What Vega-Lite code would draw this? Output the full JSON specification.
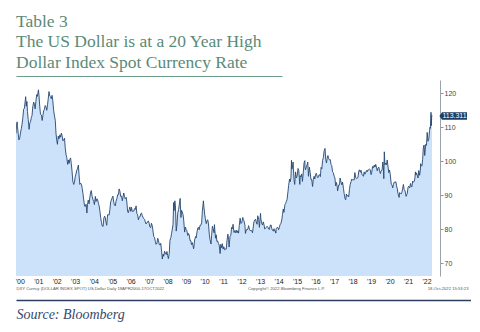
{
  "$schema": "https://vega.github.io/schema/vega-lite/v6.json",
  "background": "white",
  "padding": {"left": 15, "top": 12, "right": 0, "bottom": 6},
  "config": {"view": {"stroke": null}},
  "title": {
    "text": ["Table 3", "The US Dollar is at a 20 Year High", "Dollar Index Spot Currency Rate"],
    "anchor": "start",
    "frame": "group",
    "font": "Liberation Serif, DejaVu Serif, serif",
    "fontSize": 17.5,
    "fontWeight": "normal",
    "color": "#5b8a78",
    "lineHeight": 20.5,
    "offset": 1.5
  },
  "spacing": 1,
  "vconcat": [
    {
      "width": 266,
      "height": 1,
      "data": {"values": [{"x": 0}]},
      "mark": {"type": "point", "opacity": 0},
      "encoding": {
        "x": {
          "field": "x",
          "type": "quantitative",
          "axis": {"orient": "bottom", "domainColor": "#6f9c8a", "domainWidth": 1, "labels": false, "ticks": false, "grid": false, "title": null}
        }
      }
    },
    {
      "width": 424,
      "height": 196,
      "resolve": {"axis": {"x": "independent"}},
      "encoding": {
        "y": {
          "field": "v",
          "type": "quantitative",
          "scale": {"domain": [66.3, 123.9], "nice": false, "zero": false},
          "axis": {
            "orient": "right",
            "values": [70, 80, 90, 100, 110, 120],
            "title": null,
            "grid": false,
            "domainColor": "#9aa3ad",
            "tickColor": "#8a939c",
            "tickSize": 3,
            "labelPadding": 1,
            "labelFontSize": 7,
            "labelColor": "#444444",
            "labelFont": "Liberation Sans"
          }
        }
      },
      "layer": [
        {
          "data": {"values": [
{"d":"2000-04-18","v":108.2},{"d":"2000-04-28","v":110.6},{"d":"2000-05-10","v":111.6},{"d":"2000-05-18","v":110.2},{"d":"2000-06-01","v":108.0},{"d":"2000-06-15","v":106.3},{"d":"2000-07-01","v":106.9},{"d":"2000-07-15","v":108.3},{"d":"2000-08-01","v":109.6},{"d":"2000-08-15","v":110.9},{"d":"2000-09-01","v":112.9},{"d":"2000-09-15","v":115.3},{"d":"2000-10-01","v":115.6},{"d":"2000-10-15","v":117.5},{"d":"2000-10-26","v":119.0},{"d":"2000-11-07","v":116.2},{"d":"2000-11-20","v":117.6},{"d":"2000-12-01","v":114.6},{"d":"2000-12-15","v":112.3},
{"d":"2001-01-02","v":109.4},{"d":"2001-01-15","v":111.2},{"d":"2001-02-01","v":111.8},{"d":"2001-02-15","v":112.9},{"d":"2001-03-01","v":113.5},{"d":"2001-03-15","v":116.0},{"d":"2001-04-02","v":117.4},{"d":"2001-04-16","v":116.8},{"d":"2001-05-01","v":115.4},{"d":"2001-05-15","v":117.6},{"d":"2001-06-01","v":119.6},{"d":"2001-06-15","v":119.1},{"d":"2001-07-05","v":121.0},{"d":"2001-07-16","v":119.4},{"d":"2001-08-01","v":116.0},{"d":"2001-08-15","v":113.8},{"d":"2001-09-03","v":113.6},{"d":"2001-09-17","v":112.0},{"d":"2001-10-01","v":113.4},{"d":"2001-10-15","v":114.8},{"d":"2001-11-01","v":115.3},{"d":"2001-11-15","v":116.4},{"d":"2001-12-03","v":115.9},{"d":"2001-12-17","v":115.0},
{"d":"2002-01-02","v":116.8},{"d":"2002-01-15","v":118.4},{"d":"2002-01-30","v":120.5},{"d":"2002-02-15","v":119.2},{"d":"2002-03-01","v":119.0},{"d":"2002-03-15","v":118.4},{"d":"2002-04-01","v":119.4},{"d":"2002-04-15","v":117.8},{"d":"2002-05-01","v":115.0},{"d":"2002-05-15","v":113.6},{"d":"2002-06-03","v":112.0},{"d":"2002-06-17","v":108.3},{"d":"2002-07-01","v":106.2},{"d":"2002-07-15","v":105.0},{"d":"2002-08-01","v":107.4},{"d":"2002-08-15","v":106.6},{"d":"2002-09-03","v":107.8},{"d":"2002-09-16","v":107.1},{"d":"2002-10-01","v":108.3},{"d":"2002-10-15","v":107.6},{"d":"2002-11-01","v":106.0},{"d":"2002-11-15","v":106.3},{"d":"2002-12-02","v":106.8},{"d":"2002-12-16","v":104.0},
{"d":"2003-01-02","v":101.9},{"d":"2003-01-15","v":101.2},{"d":"2003-02-03","v":99.1},{"d":"2003-02-18","v":100.4},{"d":"2003-03-03","v":99.4},{"d":"2003-03-17","v":100.6},{"d":"2003-04-01","v":101.0},{"d":"2003-04-15","v":99.3},{"d":"2003-05-01","v":96.9},{"d":"2003-05-15","v":94.2},{"d":"2003-06-02","v":93.2},{"d":"2003-06-16","v":93.8},{"d":"2003-07-01","v":95.4},{"d":"2003-07-15","v":96.2},{"d":"2003-08-01","v":97.4},{"d":"2003-08-15","v":97.8},{"d":"2003-09-02","v":98.9},{"d":"2003-09-15","v":96.2},{"d":"2003-10-01","v":93.2},{"d":"2003-10-15","v":93.6},{"d":"2003-11-03","v":93.2},{"d":"2003-11-17","v":92.0},{"d":"2003-12-01","v":90.6},{"d":"2003-12-15","v":88.9},
{"d":"2004-01-02","v":86.9},{"d":"2004-01-15","v":86.7},{"d":"2004-02-02","v":87.4},{"d":"2004-02-17","v":84.8},{"d":"2004-03-01","v":87.4},{"d":"2004-03-15","v":88.6},{"d":"2004-04-01","v":87.5},{"d":"2004-04-15","v":89.4},{"d":"2004-05-03","v":91.0},{"d":"2004-05-14","v":91.4},{"d":"2004-06-01","v":89.6},{"d":"2004-06-15","v":88.8},{"d":"2004-07-01","v":88.2},{"d":"2004-07-15","v":87.3},{"d":"2004-08-02","v":89.7},{"d":"2004-08-16","v":88.2},{"d":"2004-09-01","v":89.0},{"d":"2004-09-15","v":88.8},{"d":"2004-10-01","v":87.7},{"d":"2004-10-15","v":87.0},{"d":"2004-11-01","v":85.3},{"d":"2004-11-15","v":83.5},{"d":"2004-12-01","v":82.1},{"d":"2004-12-15","v":81.0},
{"d":"2005-01-03","v":80.9},{"d":"2005-01-17","v":83.3},{"d":"2005-02-01","v":83.9},{"d":"2005-02-15","v":83.4},{"d":"2005-03-01","v":82.1},{"d":"2005-03-15","v":81.2},{"d":"2005-04-01","v":84.3},{"d":"2005-04-15","v":84.3},{"d":"2005-05-02","v":84.2},{"d":"2005-05-16","v":85.8},{"d":"2005-06-01","v":88.1},{"d":"2005-06-15","v":88.6},{"d":"2005-07-01","v":89.3},{"d":"2005-07-15","v":89.8},{"d":"2005-08-01","v":88.0},{"d":"2005-08-15","v":87.2},{"d":"2005-09-01","v":86.9},{"d":"2005-09-15","v":88.3},{"d":"2005-10-03","v":89.1},{"d":"2005-10-17","v":90.2},{"d":"2005-11-01","v":90.2},{"d":"2005-11-15","v":91.9},{"d":"2005-12-01","v":91.2},{"d":"2005-12-15","v":89.7},
{"d":"2006-01-03","v":89.8},{"d":"2006-01-17","v":88.4},{"d":"2006-02-01","v":89.6},{"d":"2006-02-15","v":90.7},{"d":"2006-03-01","v":89.7},{"d":"2006-03-15","v":89.0},{"d":"2006-04-03","v":89.4},{"d":"2006-04-17","v":88.0},{"d":"2006-05-01","v":85.4},{"d":"2006-05-15","v":84.9},{"d":"2006-06-01","v":85.8},{"d":"2006-06-15","v":86.6},{"d":"2006-07-03","v":85.3},{"d":"2006-07-17","v":86.5},{"d":"2006-08-01","v":85.3},{"d":"2006-08-15","v":85.3},{"d":"2006-09-01","v":85.4},{"d":"2006-09-15","v":86.1},{"d":"2006-10-02","v":85.9},{"d":"2006-10-16","v":86.9},{"d":"2006-11-01","v":84.6},{"d":"2006-11-15","v":84.3},{"d":"2006-12-01","v":82.8},{"d":"2006-12-15","v":83.6},
{"d":"2007-01-02","v":83.7},{"d":"2007-01-16","v":84.6},{"d":"2007-02-01","v":84.8},{"d":"2007-02-15","v":84.0},{"d":"2007-03-01","v":83.6},{"d":"2007-03-15","v":83.2},{"d":"2007-04-02","v":82.9},{"d":"2007-04-16","v":82.2},{"d":"2007-05-01","v":81.6},{"d":"2007-05-15","v":82.0},{"d":"2007-06-01","v":82.1},{"d":"2007-06-15","v":82.5},{"d":"2007-07-02","v":81.8},{"d":"2007-07-16","v":80.7},{"d":"2007-08-01","v":80.5},{"d":"2007-08-15","v":81.8},{"d":"2007-09-04","v":80.9},{"d":"2007-09-17","v":79.2},{"d":"2007-10-01","v":77.9},{"d":"2007-10-15","v":77.6},{"d":"2007-11-01","v":76.4},{"d":"2007-11-15","v":75.6},{"d":"2007-12-03","v":76.0},{"d":"2007-12-17","v":77.4},
{"d":"2008-01-02","v":76.7},{"d":"2008-01-15","v":75.6},{"d":"2008-02-01","v":75.4},{"d":"2008-02-15","v":75.9},{"d":"2008-03-03","v":73.6},{"d":"2008-03-17","v":71.3},{"d":"2008-04-01","v":72.7},{"d":"2008-04-15","v":72.1},{"d":"2008-05-01","v":73.6},{"d":"2008-05-15","v":73.0},{"d":"2008-06-02","v":72.6},{"d":"2008-06-16","v":73.5},{"d":"2008-07-01","v":72.3},{"d":"2008-07-15","v":71.4},{"d":"2008-08-01","v":72.9},{"d":"2008-08-15","v":76.8},{"d":"2008-09-02","v":77.6},{"d":"2008-09-15","v":78.7},{"d":"2008-10-01","v":80.1},{"d":"2008-10-15","v":81.5},{"d":"2008-10-27","v":87.9},{"d":"2008-11-05","v":85.5},{"d":"2008-11-20","v":88.4},{"d":"2008-12-01","v":86.9},{"d":"2008-12-17","v":79.5},{"d":"2008-12-31","v":81.3},
{"d":"2009-01-15","v":84.7},{"d":"2009-02-02","v":85.9},{"d":"2009-02-17","v":87.4},{"d":"2009-03-04","v":89.1},{"d":"2009-03-20","v":83.5},{"d":"2009-04-01","v":85.6},{"d":"2009-04-15","v":85.1},{"d":"2009-05-01","v":84.3},{"d":"2009-05-15","v":82.5},{"d":"2009-06-01","v":79.2},{"d":"2009-06-15","v":80.7},{"d":"2009-07-01","v":80.0},{"d":"2009-07-15","v":79.6},{"d":"2009-08-03","v":78.2},{"d":"2009-08-17","v":78.8},{"d":"2009-09-01","v":78.3},{"d":"2009-09-15","v":76.7},{"d":"2009-10-01","v":76.7},{"d":"2009-10-15","v":75.5},{"d":"2009-11-02","v":76.1},{"d":"2009-11-25","v":74.3},{"d":"2009-12-01","v":74.8},{"d":"2009-12-15","v":76.9},
{"d":"2010-01-04","v":77.9},{"d":"2010-01-15","v":77.5},{"d":"2010-02-01","v":79.3},{"d":"2010-02-16","v":80.4},{"d":"2010-03-01","v":80.6},{"d":"2010-03-15","v":79.9},{"d":"2010-04-01","v":81.2},{"d":"2010-04-15","v":81.2},{"d":"2010-05-03","v":81.9},{"d":"2010-05-17","v":85.3},{"d":"2010-06-07","v":88.4},{"d":"2010-06-15","v":86.9},{"d":"2010-07-01","v":84.5},{"d":"2010-07-15","v":83.1},{"d":"2010-08-02","v":81.7},{"d":"2010-08-16","v":82.6},{"d":"2010-09-01","v":82.8},{"d":"2010-09-15","v":81.6},{"d":"2010-10-01","v":78.6},{"d":"2010-10-15","v":77.0},{"d":"2010-11-04","v":75.7},{"d":"2010-11-15","v":78.1},{"d":"2010-12-01","v":80.9},{"d":"2010-12-15","v":80.2},
{"d":"2011-01-03","v":79.0},{"d":"2011-01-10","v":81.4},{"d":"2011-01-18","v":79.9},{"d":"2011-02-01","v":77.4},{"d":"2011-02-15","v":78.4},{"d":"2011-03-01","v":76.4},{"d":"2011-03-15","v":76.6},{"d":"2011-04-01","v":75.8},{"d":"2011-04-15","v":75.4},{"d":"2011-05-03","v":72.9},{"d":"2011-05-16","v":75.6},{"d":"2011-06-01","v":74.6},{"d":"2011-06-15","v":75.8},{"d":"2011-07-01","v":74.2},{"d":"2011-07-15","v":74.9},{"d":"2011-08-01","v":74.0},{"d":"2011-08-15","v":74.2},{"d":"2011-09-01","v":74.2},{"d":"2011-09-15","v":76.6},{"d":"2011-10-03","v":78.6},{"d":"2011-10-17","v":77.1},{"d":"2011-10-27","v":74.8},{"d":"2011-11-15","v":78.0},{"d":"2011-12-01","v":78.3},{"d":"2011-12-15","v":80.6},
{"d":"2012-01-03","v":80.2},{"d":"2012-01-13","v":81.5},{"d":"2012-02-01","v":79.1},{"d":"2012-02-15","v":79.6},{"d":"2012-03-01","v":79.0},{"d":"2012-03-15","v":79.8},{"d":"2012-04-02","v":79.0},{"d":"2012-04-16","v":79.6},{"d":"2012-05-01","v":78.9},{"d":"2012-05-15","v":81.1},{"d":"2012-06-01","v":83.3},{"d":"2012-06-15","v":81.7},{"d":"2012-07-02","v":81.9},{"d":"2012-07-24","v":83.5},{"d":"2012-08-01","v":83.0},{"d":"2012-08-15","v":82.6},{"d":"2012-09-04","v":81.2},{"d":"2012-09-14","v":78.8},{"d":"2012-10-01","v":79.9},{"d":"2012-10-15","v":79.8},{"d":"2012-11-01","v":80.1},{"d":"2012-11-15","v":81.1},{"d":"2012-12-03","v":80.0},{"d":"2012-12-17","v":79.6},
{"d":"2013-01-02","v":79.8},{"d":"2013-01-15","v":79.6},{"d":"2013-02-01","v":79.0},{"d":"2013-02-15","v":80.7},{"d":"2013-03-01","v":82.2},{"d":"2013-03-15","v":82.7},{"d":"2013-04-01","v":83.0},{"d":"2013-04-15","v":82.2},{"d":"2013-05-01","v":81.5},{"d":"2013-05-15","v":84.0},{"d":"2013-06-03","v":83.0},{"d":"2013-06-17","v":80.6},{"d":"2013-07-09","v":84.7},{"d":"2013-07-15","v":83.2},{"d":"2013-08-01","v":81.8},{"d":"2013-08-15","v":81.3},{"d":"2013-09-03","v":82.2},{"d":"2013-09-16","v":81.3},{"d":"2013-10-01","v":80.1},{"d":"2013-10-15","v":80.3},{"d":"2013-11-01","v":80.6},{"d":"2013-11-15","v":80.9},{"d":"2013-12-02","v":80.6},{"d":"2013-12-16","v":80.1},
{"d":"2014-01-02","v":80.0},{"d":"2014-01-15","v":81.2},{"d":"2014-02-03","v":81.3},{"d":"2014-02-17","v":80.2},{"d":"2014-03-03","v":79.7},{"d":"2014-03-17","v":79.5},{"d":"2014-04-01","v":80.2},{"d":"2014-04-15","v":79.5},{"d":"2014-05-01","v":79.5},{"d":"2014-05-07","v":78.9},{"d":"2014-05-15","v":80.3},{"d":"2014-06-02","v":80.5},{"d":"2014-06-16","v":80.6},{"d":"2014-07-01","v":79.9},{"d":"2014-07-15","v":80.5},{"d":"2014-08-01","v":81.5},{"d":"2014-08-15","v":81.7},{"d":"2014-09-02","v":82.8},{"d":"2014-09-15","v":84.3},{"d":"2014-10-01","v":86.0},{"d":"2014-10-15","v":85.0},{"d":"2014-11-03","v":87.3},{"d":"2014-11-17","v":87.6},{"d":"2014-12-01","v":88.2},{"d":"2014-12-15","v":88.8},
{"d":"2015-01-02","v":91.1},{"d":"2015-01-15","v":92.9},{"d":"2015-02-02","v":94.8},{"d":"2015-02-17","v":94.0},{"d":"2015-03-02","v":95.3},{"d":"2015-03-13","v":100.3},{"d":"2015-03-20","v":97.7},{"d":"2015-04-01","v":98.3},{"d":"2015-04-13","v":99.8},{"d":"2015-04-20","v":97.8},{"d":"2015-05-01","v":94.6},{"d":"2015-05-15","v":93.2},{"d":"2015-06-01","v":96.9},{"d":"2015-06-15","v":95.1},{"d":"2015-07-01","v":95.6},{"d":"2015-07-20","v":97.9},{"d":"2015-08-03","v":97.3},{"d":"2015-08-24","v":93.2},{"d":"2015-09-01","v":95.8},{"d":"2015-09-15","v":95.4},{"d":"2015-10-01","v":96.3},{"d":"2015-10-15","v":94.1},{"d":"2015-11-02","v":96.9},{"d":"2015-11-16","v":99.6},{"d":"2015-12-02","v":100.2},{"d":"2015-12-04","v":98.3},{"d":"2015-12-15","v":97.5},
{"d":"2016-01-04","v":98.7},{"d":"2016-01-15","v":99.0},{"d":"2016-01-28","v":99.8},{"d":"2016-02-11","v":95.6},{"d":"2016-02-29","v":98.3},{"d":"2016-03-15","v":96.7},{"d":"2016-04-01","v":94.6},{"d":"2016-04-15","v":94.7},{"d":"2016-05-02","v":92.6},{"d":"2016-05-16","v":94.6},{"d":"2016-06-01","v":95.6},{"d":"2016-06-15","v":94.8},{"d":"2016-07-01","v":96.2},{"d":"2016-07-15","v":96.5},{"d":"2016-08-01","v":95.5},{"d":"2016-08-15","v":95.2},{"d":"2016-09-01","v":95.9},{"d":"2016-09-15","v":96.1},{"d":"2016-10-03","v":95.5},{"d":"2016-10-17","v":98.2},{"d":"2016-11-01","v":97.8},{"d":"2016-11-15","v":100.2},{"d":"2016-12-01","v":101.1},{"d":"2016-12-15","v":102.9},{"d":"2016-12-20","v":103.3},
{"d":"2017-01-03","v":103.8},{"d":"2017-01-17","v":100.6},{"d":"2017-02-01","v":99.5},{"d":"2017-02-15","v":100.9},{"d":"2017-03-01","v":101.7},{"d":"2017-03-15","v":100.8},{"d":"2017-04-03","v":100.4},{"d":"2017-04-17","v":100.5},{"d":"2017-05-01","v":99.1},{"d":"2017-05-15","v":98.8},{"d":"2017-06-01","v":96.9},{"d":"2017-06-15","v":96.7},{"d":"2017-07-03","v":95.6},{"d":"2017-07-17","v":95.1},{"d":"2017-08-01","v":92.8},{"d":"2017-08-15","v":93.8},{"d":"2017-09-01","v":92.6},{"d":"2017-09-08","v":91.3},{"d":"2017-09-15","v":91.9},{"d":"2017-10-02","v":93.1},{"d":"2017-10-16","v":93.1},{"d":"2017-10-27","v":95.1},{"d":"2017-11-15","v":93.9},{"d":"2017-12-01","v":93.1},{"d":"2017-12-15","v":93.9},
{"d":"2018-01-02","v":92.1},{"d":"2018-01-15","v":90.6},{"d":"2018-02-01","v":89.1},{"d":"2018-02-15","v":88.7},{"d":"2018-03-01","v":90.4},{"d":"2018-03-15","v":89.7},{"d":"2018-04-02","v":90.0},{"d":"2018-04-16","v":89.6},{"d":"2018-05-01","v":91.8},{"d":"2018-05-15","v":93.2},{"d":"2018-06-01","v":94.0},{"d":"2018-06-15","v":94.8},{"d":"2018-07-02","v":94.5},{"d":"2018-07-16","v":94.6},{"d":"2018-08-01","v":94.5},{"d":"2018-08-15","v":96.7},{"d":"2018-09-04","v":95.1},{"d":"2018-09-17","v":94.9},{"d":"2018-10-01","v":95.1},{"d":"2018-10-15","v":95.2},{"d":"2018-11-01","v":97.1},{"d":"2018-11-12","v":97.5},{"d":"2018-12-03","v":96.8},{"d":"2018-12-14","v":97.4},
{"d":"2019-01-02","v":96.2},{"d":"2019-01-15","v":95.9},{"d":"2019-02-01","v":95.6},{"d":"2019-02-15","v":96.9},{"d":"2019-03-01","v":96.2},{"d":"2019-03-15","v":96.6},{"d":"2019-04-01","v":97.3},{"d":"2019-04-15","v":96.9},{"d":"2019-05-01","v":97.5},{"d":"2019-05-15","v":97.5},{"d":"2019-06-03","v":97.7},{"d":"2019-06-17","v":97.5},{"d":"2019-07-01","v":96.1},{"d":"2019-07-15","v":96.8},{"d":"2019-08-01","v":98.5},{"d":"2019-08-15","v":98.1},{"d":"2019-09-03","v":98.9},{"d":"2019-09-16","v":98.3},{"d":"2019-10-01","v":99.1},{"d":"2019-10-15","v":98.3},{"d":"2019-11-01","v":97.2},{"d":"2019-11-15","v":98.0},{"d":"2019-12-02","v":98.3},{"d":"2019-12-16","v":97.2},
{"d":"2020-01-02","v":96.4},{"d":"2020-01-15","v":97.2},{"d":"2020-02-03","v":97.4},{"d":"2020-02-19","v":99.8},{"d":"2020-03-02","v":98.1},{"d":"2020-03-09","v":94.9},{"d":"2020-03-19","v":102.8},{"d":"2020-03-31","v":99.0},{"d":"2020-04-15","v":99.5},{"d":"2020-05-01","v":99.0},{"d":"2020-05-15","v":100.4},{"d":"2020-06-01","v":98.3},{"d":"2020-06-15","v":96.7},{"d":"2020-07-01","v":97.4},{"d":"2020-07-15","v":96.0},{"d":"2020-08-03","v":93.3},{"d":"2020-08-17","v":93.1},{"d":"2020-09-01","v":92.2},{"d":"2020-09-15","v":93.2},{"d":"2020-10-01","v":93.9},{"d":"2020-10-15","v":93.8},{"d":"2020-11-02","v":94.0},{"d":"2020-11-16","v":92.8},{"d":"2020-12-01","v":91.9},{"d":"2020-12-15","v":90.5},
{"d":"2021-01-06","v":89.4},{"d":"2021-01-15","v":90.8},{"d":"2021-02-01","v":90.6},{"d":"2021-02-15","v":90.4},{"d":"2021-03-01","v":90.9},{"d":"2021-03-15","v":91.9},{"d":"2021-03-31","v":93.2},{"d":"2021-04-15","v":91.7},{"d":"2021-05-03","v":91.3},{"d":"2021-05-25","v":89.7},{"d":"2021-06-01","v":90.1},{"d":"2021-06-15","v":90.5},{"d":"2021-07-01","v":92.4},{"d":"2021-07-15","v":92.7},{"d":"2021-08-02","v":92.2},{"d":"2021-08-20","v":93.5},{"d":"2021-09-01","v":92.6},{"d":"2021-09-15","v":92.5},{"d":"2021-10-01","v":94.2},{"d":"2021-10-15","v":93.9},{"d":"2021-11-01","v":94.1},{"d":"2021-11-15","v":95.3},{"d":"2021-11-24","v":96.9},{"d":"2021-12-01","v":96.0},{"d":"2021-12-15","v":96.6},
{"d":"2022-01-03","v":95.7},{"d":"2022-01-14","v":95.1},{"d":"2022-01-28","v":97.3},{"d":"2022-02-15","v":95.9},{"d":"2022-03-01","v":97.4},{"d":"2022-03-07","v":99.3},{"d":"2022-03-15","v":98.8},{"d":"2022-04-01","v":98.6},{"d":"2022-04-15","v":100.5},{"d":"2022-04-28","v":103.9},{"d":"2022-05-13","v":104.8},{"d":"2022-05-27","v":101.7},{"d":"2022-06-15","v":105.0},{"d":"2022-06-30","v":104.7},{"d":"2022-07-14","v":108.5},{"d":"2022-07-29","v":105.9},{"d":"2022-08-15","v":106.5},{"d":"2022-08-29","v":109.0},{"d":"2022-09-07","v":110.0},{"d":"2022-09-15","v":109.7},{"d":"2022-09-27","v":114.4},{"d":"2022-10-04","v":110.5},{"d":"2022-10-12","v":113.5},{"d":"2022-10-17","v":113.311}
          ]},
          "mark": {"type": "area", "color": "#cbe2fa", "opacity": 1, "clip": true, "line": {"color": "#26466f", "strokeWidth": 0.9}},
          "encoding": {
            "x": {
              "field": "d",
              "type": "temporal",
              "scale": {"domain": [{"year": 2000, "month": 4, "date": 18}, {"year": 2023, "month": 3, "date": 24}]},
              "axis": {
                "orient": "bottom",
                "values": [
                  {"year": 2000, "month": 7, "date": 1}, {"year": 2001, "month": 7, "date": 1}, {"year": 2002, "month": 7, "date": 1},
                  {"year": 2003, "month": 7, "date": 1}, {"year": 2004, "month": 7, "date": 1}, {"year": 2005, "month": 7, "date": 1},
                  {"year": 2006, "month": 7, "date": 1}, {"year": 2007, "month": 7, "date": 1}, {"year": 2008, "month": 7, "date": 1},
                  {"year": 2009, "month": 7, "date": 1}, {"year": 2010, "month": 7, "date": 1}, {"year": 2011, "month": 7, "date": 1},
                  {"year": 2012, "month": 7, "date": 1}, {"year": 2013, "month": 7, "date": 1}, {"year": 2014, "month": 7, "date": 1},
                  {"year": 2015, "month": 7, "date": 1}, {"year": 2016, "month": 7, "date": 1}, {"year": 2017, "month": 7, "date": 1},
                  {"year": 2018, "month": 7, "date": 1}, {"year": 2019, "month": 7, "date": 1}, {"year": 2020, "month": 7, "date": 1},
                  {"year": 2021, "month": 7, "date": 1}, {"year": 2022, "month": 7, "date": 1}
                ],
                "format": "'%y",
                "ticks": false,
                "domain": false,
                "grid": false,
                "labelOverlap": false,
                "labelFlush": false,
                "labelPadding": 1,
                "labelFontSize": 7,
                "labelColor": "#222222",
                "labelOpacity": 1,
                "labelFont": "Liberation Sans",
                "title": "DXY Curncy (DOLLAR INDEX SPOT) US Dollar  Daily 18APR2000-17OCT2022",
                "titleX": 0,
                "titleY": 12,
                "titleAlign": "left",
                "titleAnchor": "start",
                "titleBaseline": "middle",
                "titleFontSize": 4.2,
                "titleFontWeight": "normal",
                "titleColor": "#555555",
                "titleFont": "Liberation Sans"
              }
            }
          }
        },
        {
          "data": {"values": [{"d": "2022-10-17", "v": 113.311}]},
          "mark": {
            "type": "point",
            "shape": "M -0.94 0 L -0.78 -0.234 L 0.78 -0.234 L 0.78 0.234 L -0.78 0.234 Z",
            "size": 1024,
            "filled": true,
            "opacity": 1,
            "strokeWidth": 0,
            "color": "#1c3d64",
            "xOffset": 22.5
          },
          "encoding": {
            "x": {
              "field": "d",
              "type": "temporal",
              "scale": {"domain": [{"year": 2000, "month": 4, "date": 18}, {"year": 2023, "month": 3, "date": 24}]},
              "axis": {
                "orient": "bottom",
                "labels": false,
                "ticks": false,
                "domain": false,
                "grid": false,
                "title": "Copyright© 2022 Bloomberg Finance L.P.",
                "titleX": 270,
                "titleY": 12,
                "titleAlign": "center",
                "titleBaseline": "middle",
                "titleFontSize": 4.2,
                "titleFontWeight": "normal",
                "titleColor": "#555555",
                "titleFont": "Liberation Sans"
              }
            }
          }
        },
        {
          "data": {"values": [{"d": "2022-10-17", "v": 113.311}]},
          "mark": {"type": "text", "color": "white", "fontSize": 7, "font": "Liberation Sans", "align": "center", "baseline": "middle", "xOffset": 22.5},
          "encoding": {
            "text": {"field": "v", "type": "quantitative", "format": ".3f"},
            "x": {
              "field": "d",
              "type": "temporal",
              "scale": {"domain": [{"year": 2000, "month": 4, "date": 18}, {"year": 2023, "month": 3, "date": 24}]},
              "axis": {
                "orient": "bottom",
                "labels": false,
                "ticks": false,
                "domain": false,
                "grid": false,
                "title": "18-Oct-2022 15:53:23",
                "titleX": 452,
                "titleY": 12,
                "titleAlign": "right",
                "titleBaseline": "middle",
                "titleFontSize": 4.2,
                "titleFontWeight": "normal",
                "titleColor": "#555555",
                "titleFont": "Liberation Sans"
              }
            }
          }
        }
      ]
    },
    {
      "width": 455,
      "height": 8,
      "data": {"values": [{"x": 0}]},
      "mark": {"type": "point", "opacity": 0},
      "encoding": {
        "x": {
          "field": "x",
          "type": "quantitative",
          "axis": {
            "orient": "bottom",
            "domainColor": "#2c3d5e",
            "domainWidth": 1.5,
            "labels": false,
            "ticks": false,
            "grid": false,
            "title": "Source:  Bloomberg",
            "titleFont": "Liberation Serif, DejaVu Serif, serif",
            "titleFontStyle": "italic",
            "titleFontWeight": "normal",
            "titleFontSize": 14,
            "titleColor": "#34486b",
            "titleX": 0,
            "titleY": 18,
            "titleAlign": "left",
            "titleBaseline": "alphabetic"
          }
        }
      }
    }
  ]
}
